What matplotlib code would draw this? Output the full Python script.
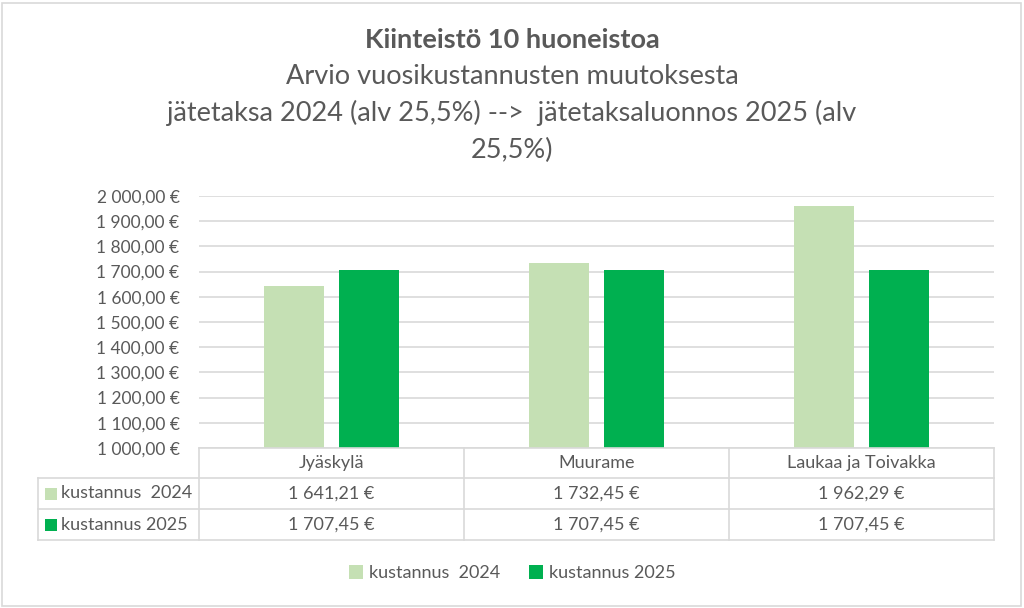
import matplotlib
matplotlib.use("Agg")
import matplotlib.pyplot as plt
from matplotlib.patches import Patch, Rectangle
import numpy as np

plt.rcParams["font.family"] = ["Lato", "DejaVu Sans"]

categories = ["Jyäskylä", "Muurame", "Laukaa ja Toivakka"]
series_names = ["kustannus  2024", "kustannus 2025"]
cost_2024 = [1641.21, 1732.45, 1962.29]
cost_2025 = [1707.45, 1707.45, 1707.45]
y_ticks = [1000, 1100, 1200, 1300, 1400, 1500, 1600, 1700, 1800, 1900, 2000]

TXT = "#595959"
C24 = "#C5E0B4"
C25 = "#00B050"
GRID = "#D9D9D9"
FS = 13


def eur(v):
    s = f"{v:,.2f}"  # 1,641.21
    s = s.replace(",", " ").replace(".", ",")
    return s + " €"


W, H = 1024, 608
fig = plt.figure(figsize=(W / 100, H / 100), dpi=100)
fig.patch.set_facecolor("white")

# outer border
fig.add_artist(Rectangle((2 / W, 2 / H), 1 - 5 / W, 1 - 5 / H, transform=fig.transFigure,
                         fill=False, edgecolor="#D9D9D9", linewidth=1.2))

# title
fig.text(0.5, 1 - 40 / H, "Kiinteistö 10 huoneistoa", ha="center", va="center",
         fontsize=19.5, fontweight="bold", color=TXT)
fig.text(0.5, 1 - 77 / H, "Arvio vuosikustannusten muutoksesta", ha="center", va="center",
         fontsize=19.5, color=TXT)
fig.text(0.5, 1 - 113 / H, "jätetaksa 2024 (alv 25,5%) -->  jätetaksaluonnos 2025 (alv",
         ha="center", va="center", fontsize=19.5, color=TXT)
fig.text(0.5, 1 - 150 / H, "25,5%)", ha="center", va="center", fontsize=19.5, color=TXT)

x0, x1 = 199, 994
ytop, ybot = 196, 448
ax = fig.add_axes([x0 / W, 1 - ybot / H, (x1 - x0) / W, (ybot - ytop) / H])

x = np.arange(len(categories))
bw = 0.227
off = 0.14
ax.bar(x - off, np.array(cost_2024) - 1000, bw, bottom=1000, color=C24, zorder=3)
ax.bar(x + off, np.array(cost_2025) - 1000, bw, bottom=1000, color=C25, zorder=3)

ax.set_xlim(-0.5, len(categories) - 0.5)
ax.set_ylim(1000, 2000)
ax.set_yticks(y_ticks)
ax.set_yticklabels([eur(v) for v in y_ticks], fontsize=12.5, color=TXT)
ax.set_xticks([])
ax.tick_params(axis="y", length=0, pad=14)
for s in ax.spines.values():
    s.set_visible(False)
ax.yaxis.grid(True, color=GRID, linewidth=1.2, zorder=0)
ax.set_axisbelow(True)


# data table below axes (figure pixel layout)
def fx(px):
    return px / W


def fy(py):
    return 1 - py / H


col_edges = [x0 + i * (x1 - x0) / len(categories) for i in range(len(categories) + 1)]
row_y = [448, 478, 509, 540]
left_x = 38
lc = "#D9D9D9"
lw = 1.2
# horizontal lines
fig.add_artist(plt.Line2D([fx(x0), fx(x1)], [fy(row_y[0])] * 2, color=lc, lw=lw))
for ry in row_y[1:]:
    fig.add_artist(plt.Line2D([fx(left_x), fx(x1)], [fy(ry)] * 2, color=lc, lw=lw))
# vertical lines
for cx in col_edges:
    fig.add_artist(plt.Line2D([fx(cx)] * 2, [fy(row_y[0]), fy(row_y[-1])], color=lc, lw=lw))
fig.add_artist(plt.Line2D([fx(left_x)] * 2, [fy(row_y[1]), fy(row_y[-1])], color=lc, lw=lw))

for i, cat in enumerate(categories):
    cx = (col_edges[i] + col_edges[i + 1]) / 2
    fig.text(fx(cx), fy((row_y[0] + row_y[1]) / 2), cat, ha="center", va="center",
             fontsize=FS, color=TXT)
    for r, vals in enumerate([cost_2024, cost_2025]):
        fig.text(fx(cx), fy((row_y[r + 1] + row_y[r + 2]) / 2), eur(vals[i]),
                 ha="center", va="center", fontsize=FS, color=TXT)

for r, (name, c) in enumerate(zip(series_names, [C24, C25])):
    cy = (row_y[r + 1] + row_y[r + 2]) / 2
    fig.add_artist(Rectangle((fx(45), fy(cy + 6)), 12 / W, 12 / H, transform=fig.transFigure,
                             facecolor=c, edgecolor="none"))
    fig.text(fx(61), fy(cy), name, ha="left", va="center", fontsize=FS, color=TXT)

# bottom legend
handles = [Patch(facecolor=C24, label=series_names[0]), Patch(facecolor=C25, label=series_names[1])]
fig.legend(handles=handles, loc="center", bbox_to_anchor=(0.5, fy(573)), ncol=2, frameon=False,
           fontsize=FS, labelcolor=TXT, handlelength=0.8, handleheight=0.8,
           handletextpad=0.3, columnspacing=1.6)

fig.savefig("out.png", dpi=100, facecolor="white")
